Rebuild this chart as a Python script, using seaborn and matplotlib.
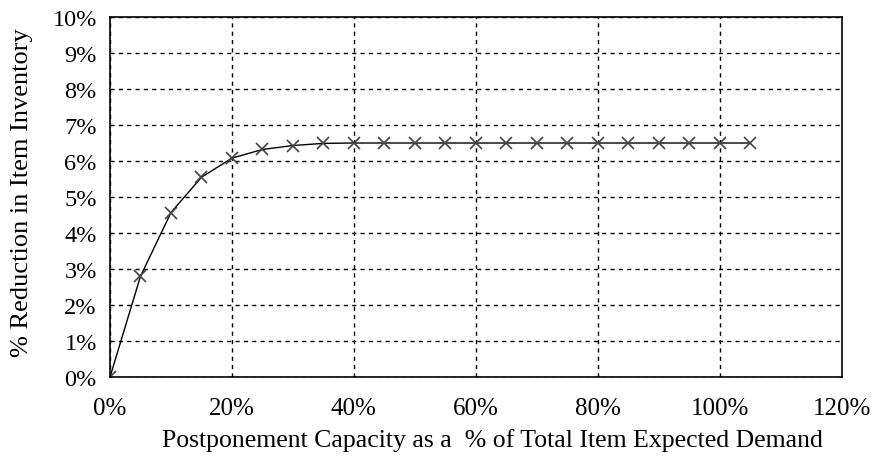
import matplotlib
matplotlib.use("Agg")
import matplotlib.pyplot as plt
import seaborn as sns
import pandas as pd
from matplotlib.ticker import FuncFormatter, MultipleLocator

capacity = [0, 5, 10, 15, 20, 25, 30, 35, 40, 45, 50, 55, 60, 65, 70, 75, 80, 85, 90, 95, 100, 105]
reduction = [0.0, 2.8, 4.57, 5.55, 6.08, 6.32, 6.43, 6.49, 6.5, 6.5, 6.5, 6.5, 6.5, 6.5, 6.5, 6.5, 6.5, 6.5, 6.5, 6.5, 6.5, 6.5]

df = pd.DataFrame({"capacity": capacity, "reduction": reduction})

sns.set_theme(style="white")
plt.rcParams['font.family'] = ['Liberation Serif', 'DejaVu Serif']
plt.rcParams['text.color'] = 'black'
plt.rcParams['axes.labelcolor'] = 'black'

fig = plt.figure(figsize=(8.75, 4.6), dpi=100)
ax = fig.add_axes([0.1257, 0.178, 0.8363, 0.783])

sns.lineplot(data=df, x="capacity", y="reduction", ax=ax, color="black", linewidth=1.0,
             marker="x", markersize=9, markeredgecolor="#444444", markeredgewidth=1.2)

ax.set_xlim(0, 120)
ax.set_ylim(0, 10)
ax.xaxis.set_major_locator(MultipleLocator(20))
ax.yaxis.set_major_locator(MultipleLocator(1))
ax.xaxis.set_major_formatter(FuncFormatter(lambda v, p: f"{int(v)}%"))
ax.yaxis.set_major_formatter(FuncFormatter(lambda v, p: f"{int(v)}%"))
ax.grid(True, color="black", linestyle=(0, (3, 3)), linewidth=1.0)
for s in ax.spines.values():
    s.set_color("black")
    s.set_linewidth(1.2)
ax.tick_params(axis="x", direction="in", length=6, width=1.0, colors="black", labelsize=18, pad=14)
ax.tick_params(axis="y", direction="inout", length=7, width=1.0, colors="black", labelsize=17.5, pad=6)
ax.set_xlabel("Postponement Capacity as a  % of Total Item Expected Demand", fontsize=18.5)
ax.set_ylabel("% Reduction in Item Inventory", fontsize=19)
ax.xaxis.set_label_coords((493 - 110) / 732, -(440 - 378) / 360)
ax.xaxis.label.set_verticalalignment("center")
ax.yaxis.set_label_coords(-(110 - 22) / 732, (378 - 193) / 360)
ax.yaxis.label.set_verticalalignment("center")

fig.savefig("out.png", dpi=100)
